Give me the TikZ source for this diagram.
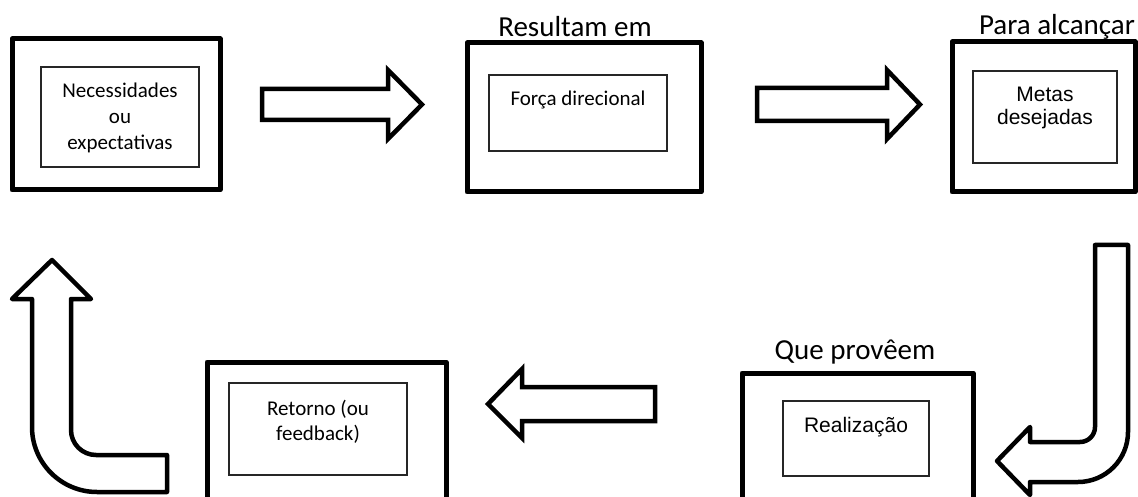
\documentclass[tikz,border=0pt]{standalone}
\usepackage{fontspec}
\setmainfont{Carlito}
\newfontfamily\arialfont{Liberation Sans}

\begin{document}
\begin{tikzpicture}[x=1pt,y=-1pt,
  outerbox/.style={draw=black, line width=5pt, line join=round, inner sep=0pt, outer sep=0pt},
  innerbox/.style={draw=black!85, line width=1.3pt, inner sep=0pt, outer sep=0pt},
  txt/.style={inner sep=0pt, anchor=base, font=\fontsize{21}{25}\selectfont},
  atxt/.style={inner sep=0pt, anchor=base, font=\arialfont\fontsize{21}{25}\selectfont},
  caption/.style={inner sep=0pt, anchor=base, font=\fontsize{29}{34}\selectfont},
  blockarrow/.style={draw=black, fill=white, line width=4.5pt, line join=miter},
  bentarrow/.style={draw=black, fill=white, line width=4.5pt, line join=round}]

\useasboundingbox (0,0) rectangle (1138,497);
\clip (0,0) rectangle (1138,497);

% --- top row ---
\node[outerbox, minimum width=208pt, minimum height=151pt] (needsOut) at (116,114.5) {};
\node[innerbox, minimum width=158pt, minimum height=100pt] (needsIn) at (120,117) {};
\node[txt] (needsA) at (120,98) {Necessidades};
\node[txt] (needsB) at (120,124) {ou};
\node[txt] (needsC) at (120,150) {expectativas};

\node[caption] (capForce) at (575,37) {Resultam em};
\node[outerbox, minimum width=234pt, minimum height=149pt] (forceOut) at (584,117.5) {};
\node[innerbox, minimum width=178pt, minimum height=76pt] (forceIn) at (578,113) {};
\node[txt] (forceA) at (578,106) {Força direcional};

\node[caption] (capGoals) at (1057,35) {Para alcançar};
\node[outerbox, minimum width=183pt, minimum height=150pt] (goalsOut) at (1043.5,117) {};
\node[innerbox, minimum width=144pt, minimum height=92pt] (goalsIn) at (1045,117) {};
\node[atxt] (goalsA) at (1045,102) {Metas};
\node[atxt] (goalsB) at (1045,125) {desejadas};

% --- bottom row ---
\node[outerbox, minimum width=239pt, minimum height=158pt] (backOut) at (326.5,441) {};
\node[innerbox, minimum width=178pt, minimum height=92pt] (backIn) at (318,429) {};
\node[txt] (backA) at (318,415) {Retorno (ou};
\node[txt] (backB) at (318,440) {feedback)};

\node[caption] (capDone) at (855,359) {Que provêem};
\node[outerbox, minimum width=231pt, minimum height=147pt] (doneOut) at (857.5,446.5) {};
\node[innerbox, minimum width=146pt, minimum height=75pt] (doneIn) at (856,438.5) {};
\node[atxt] (doneA) at (856,432) {Realização};

% --- block arrows ---
\draw[blockarrow] (262,89) -- (388,89) -- (388,70) -- (422,104.5) -- (388,139) -- (388,120) -- (262,120) -- cycle;
\draw[blockarrow] (757,88) -- (887,88) -- (887,70) -- (920,104.5) -- (887,139) -- (887,121) -- (757,121) -- cycle;
\draw[blockarrow] (655,387) -- (522,387) -- (522,369) -- (488,404) -- (522,438) -- (522,421) -- (655,421) -- cycle;

% bent arrow going down and turning left
\draw[bentarrow] (1095,245) -- (1128,245) -- (1128,432)
  .. controls (1128,459.6) and (1105.6,482) .. (1078,482)
  -- (1030,482) -- (1030,495) -- (997,461) -- (1030,427) -- (1030,442) -- (1080,442)
  .. controls (1088.3,442) and (1095,435.3) .. (1095,427) -- cycle;

% bent arrow coming from the right and turning up
\draw[bentarrow] (52,260) -- (91,299) -- (71,299) -- (71,430)
  .. controls (71,443.8) and (82.2,455) .. (96,455)
  -- (167,455) -- (167,492) -- (97,492)
  .. controls (61.1,492) and (32,462.9) .. (32,427)
  -- (32,299) -- (12,299) -- cycle;
\end{tikzpicture}
\end{document}
